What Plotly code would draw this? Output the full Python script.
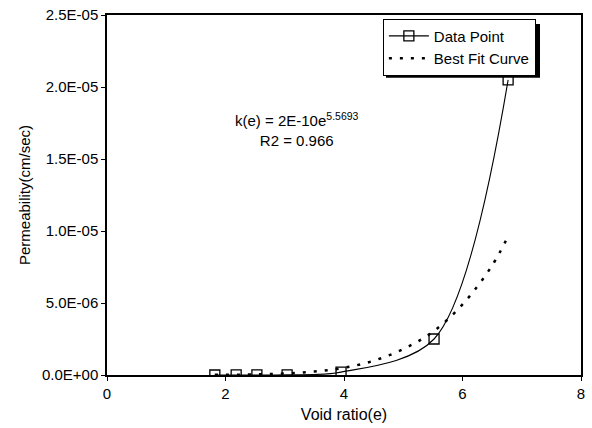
import plotly.graph_objects as go

# Measured data points
void_ratio = [1.82, 2.18, 2.53, 3.04, 3.95, 5.52, 6.77]
permeability = [1e-9, 2e-9, 5e-9, 1.5e-8, 2.0e-7, 2.5e-6, 2.05e-5]

# Best fit curve
fit_e = [1.82, 2.5, 3.0, 3.5, 4.0, 4.5, 5.0, 5.5, 6.0, 6.5, 6.77]
fit_k = [1.0e-8, 4.0e-8, 1.0e-7, 2.4e-7, 5.0e-7, 9.9e-7, 1.8e-6, 3.0e-6, 4.9e-6, 7.6e-6, 9.65e-6]

x_ticks = [0, 2, 4, 6, 8]
y_ticks = [0, 5e-6, 1e-5, 1.5e-5, 2e-5, 2.5e-5]
y_tick_text = ["0.0E+00", "5.0E-06", "1.0E-05", "1.5E-05", "2.0E-05", "2.5E-05"]

FONT = "Liberation Sans, Arial, sans-serif"

fig = go.Figure()
fig.add_trace(go.Scatter(
    x=void_ratio, y=permeability, name="Data Point",
    mode="lines+markers",
    line=dict(color="black", width=1.1, shape="spline", smoothing=0.9),
    marker=dict(symbol="square-open", size=10, color="black", line=dict(width=1.3)),
))
fig.add_trace(go.Scatter(
    x=fit_e, y=fit_k, name="Best Fit Curve",
    mode="lines",
    line=dict(color="black", width=2.5, dash="3px,8px", shape="spline", smoothing=1.0),
))

fig.add_annotation(
    x=3.2, y=1.705e-5, xref="x", yref="y",
    text="k(e) = 2E-10e<sup>5.5693</sup><br>R2 = 0.966",
    showarrow=False, align="center",
    font=dict(family=FONT, size=15, color="black"),
)

# legend drop shadow (sits behind the white legend box)
fig.add_shape(
    type="rect", xref="paper", yref="paper",
    x0=0.5886, x1=0.9135, y0=0.826, y1=0.975,
    fillcolor="black", line=dict(width=0), layer="above",
)

fig.update_layout(
    width=592, height=428,
    margin=dict(l=107, r=11, t=15, b=53),
    paper_bgcolor="white", plot_bgcolor="white",
    font=dict(family=FONT, size=15, color="black"),
    showlegend=True,
    legend=dict(
        x=0.582, y=0.99, xanchor="left", yanchor="top",
        bgcolor="white", bordercolor="black", borderwidth=1,
        font=dict(family=FONT, size=15, color="black"),
        itemwidth=40, tracegroupgap=0,
    ),
)
fig.update_xaxes(
    range=[0, 8], tickvals=x_ticks, ticktext=[str(v) for v in x_ticks],
    showgrid=False, zeroline=False, showline=True, linecolor="black", linewidth=1.5,
    mirror=True, ticks="outside", ticklen=4, tickcolor="black", automargin=False,
    title=dict(text="Void ratio(e)", standoff=8, font=dict(family=FONT, size=16)),
    tickfont=dict(family=FONT, size=15),
)
fig.update_yaxes(
    range=[0, 2.5e-5], tickvals=y_ticks, ticktext=y_tick_text,
    showgrid=False, zeroline=False, showline=True, linecolor="black", linewidth=1.5,
    mirror=True, ticks="outside", ticklen=4, tickcolor="black", automargin=False,
    title=dict(text="Permeability(cm/sec)", standoff=8, font=dict(family=FONT, size=15)),
    tickfont=dict(family=FONT, size=15),
)

fig.write_html("out.html")
